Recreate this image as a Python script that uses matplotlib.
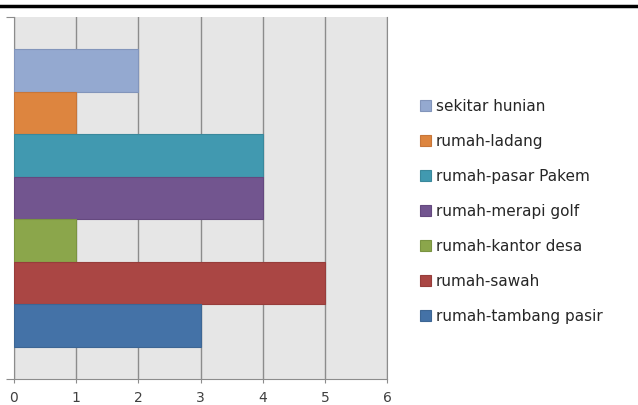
import matplotlib.pyplot as plt
from matplotlib.lines import Line2D
from matplotlib.patches import Patch

categories = ["sekitar hunian", "rumah-ladang", "rumah-pasar Pakem",
              "rumah-merapi golf", "rumah-kantor desa", "rumah-sawah",
              "rumah-tambang pasir"]
values = [2, 1, 4, 4, 1, 5, 3]
colors = ["#94a9d0", "#dd853f", "#4199b0", "#72558f", "#8ba64b", "#aa4644", "#4472a7"]
edges = ["#8295bb", "#c7763a", "#3a889c", "#65497f", "#7a9441", "#973d3b", "#3d6694"]
xticks = [0, 1, 2, 3, 4, 5, 6]

plt.rcParams['font.family'] = ['DejaVu Sans']

fig = plt.figure(figsize=(6.38, 4.05), dpi=100)
ax = fig.add_axes([14/638, 26/405, 373/638, 362/405])
ax.set_facecolor("#e6e6e6")

n = len(categories)
ypos = [n - 1 - i for i in range(n)]
ax.barh(ypos, values, height=1.0, color=colors, edgecolor=edges, linewidth=0.8, zorder=3)

ax.set_xlim(0, 6)
ax.set_ylim(-1.26, n - 1 + 1.26)
ax.set_xticks(xticks)
ax.set_xticklabels([str(t) for t in xticks], fontsize=10, color="#404040")
ax.grid(axis="x", color="#8c8c8c", linewidth=1, zorder=1)
ax.set_yticks([-1.26, n - 1 + 1.26])
ax.set_yticklabels(["", ""])

ax.spines["top"].set_visible(False)
for s in ["left", "bottom", "right"]:
    ax.spines[s].set_color("#8c8c8c")
ax.tick_params(axis="x", length=3, color="#8c8c8c", pad=6)
ax.tick_params(axis="y", length=6, color="#8c8c8c")

handles = [Patch(facecolor=c, edgecolor=e, linewidth=0.8) for c, e in zip(colors, edges)]
fig.legend(handles, categories, loc="upper left", bbox_to_anchor=(406/638, 1 - 85/405),
           frameon=False, fontsize=11, handlelength=0.75, handleheight=0.75,
           handletextpad=0.3, labelspacing=1.31, labelcolor="#262626")

fig.add_artist(Line2D([0, 1], [1 - 6/405, 1 - 6/405], color="black", linewidth=2.5))

fig.savefig("out.png", dpi=100)
